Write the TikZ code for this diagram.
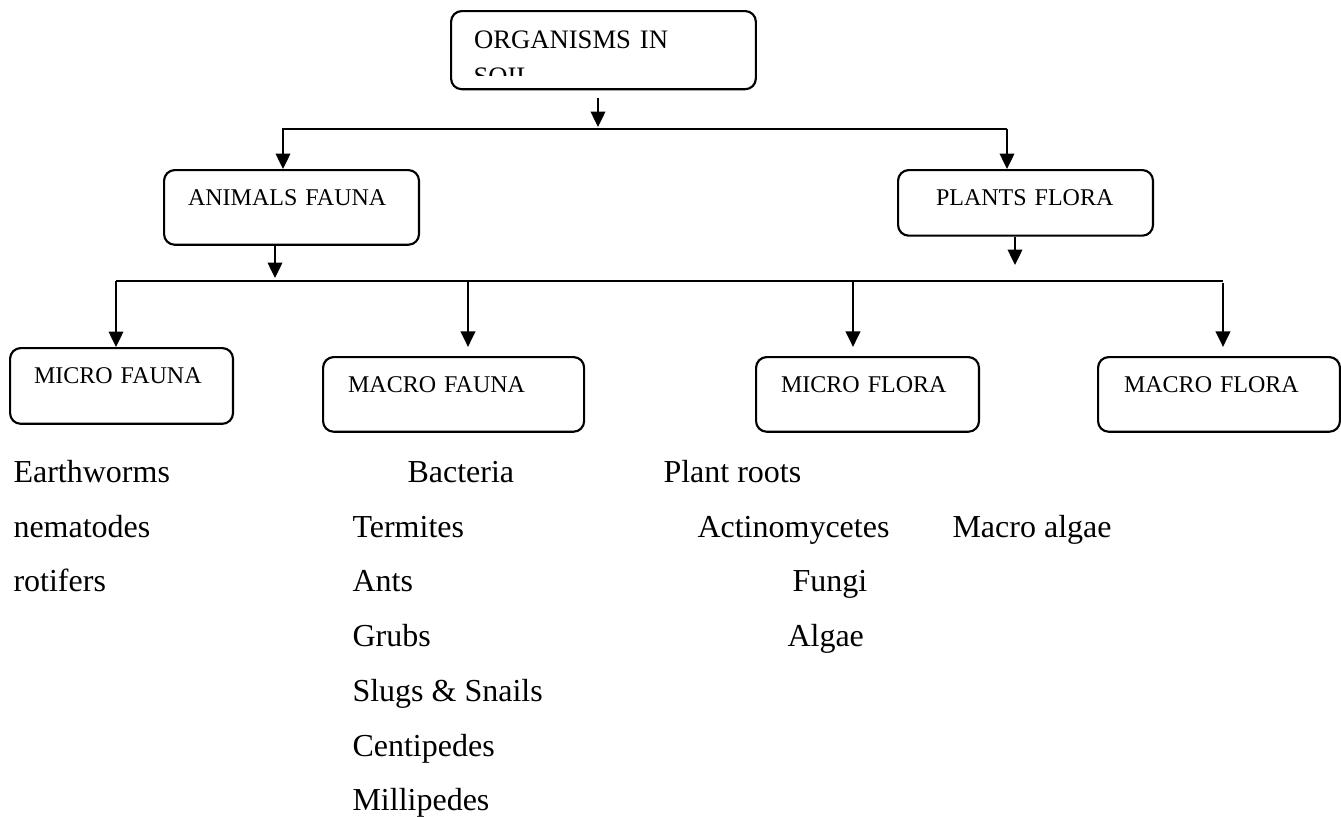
\documentclass[tikz,border=0pt]{standalone}
\usepackage{fontspec}
\setmainfont{Liberation Serif}
\usetikzlibrary{arrows.meta}
\tikzset{
    box/.style={draw, line width=0.8pt, rounded corners=4pt, anchor=north west,
                align=left, inner xsep=9.2pt, inner ysep=0pt, text height=13.4pt,
                font=\fontsize{9}{11}\selectfont},
    entry/.style={anchor=base west, inner sep=0pt, font=\fontsize{12}{14}\selectfont},
    link/.style={line width=1pt},
    arr/.style={line width=1pt, -{Triangle[length=5.8pt,width=5.4pt]}},
}
\begin{document}
\begin{tikzpicture}[x=0.375pt, y=-0.375pt]
    \useasboundingbox (0,0) rectangle (1341,816);

    \node[box, inner xsep=8.6pt, text width=97.1pt, text height=13.9pt, text depth=15.4pt,
          font=\fontsize{10}{14}\selectfont] (soil) at (450,10) {ORGANISMS IN};
    \begin{scope}
        \clip (450,10) rectangle (755,75);
        \node[entry, font=\fontsize{10}{14}\selectfont] (soilcut) at (473,85) {SOIL};
    \end{scope}

    \node[box, inner xsep=9pt,    text width=77.6pt, text depth=14.6pt]  (animals)    at (163,169)  {ANIMALS FAUNA};
    \node[box, inner xsep=14.25pt, text width=67.1pt, text depth=11.2pt] (plants)     at (897,169)  {PLANTS FLORA};
    \node[box, inner xsep=9pt,    text width=65.6pt, text depth=15pt]    (microfauna) at (9,347)    {MICRO FAUNA};
    \node[box, inner xsep=9.4pt,  text width=79.1pt, text depth=14.6pt]  (macrofauna) at (322,356)  {MACRO FAUNA};
    \node[box, inner xsep=9.4pt,  text width=64.8pt, text depth=14.6pt]  (microflora) at (755,356)  {MICRO FLORA};
    \node[box, inner xsep=9.75pt, text width=71.2pt, text depth=14.6pt]  (macroflora) at (1097,356) {MACRO FLORA};

    % branch points
    \coordinate (soilhub)  at (598,127);
    \coordinate (faunaL)   at (283,129);
    \coordinate (floraR)   at (1007,129);
    \coordinate (faunahub) at (275,282);
    \coordinate (florahub) at (1015,265);
    \coordinate (b1) at (116,281);
    \coordinate (b2) at (468,281);
    \coordinate (b3) at (853,281);
    \coordinate (b4) at (1223,281);

    \draw[arr, shorten <=3pt] (soil.south -| soilhub) -- (soilhub);
    \draw[arr] (floraR) -- (faunaL) -- (animals.north -| faunaL);
    \draw[arr] (floraR) -- (plants.north -| floraR);
    \draw[arr, shorten >=1.5pt] (animals.south -| faunahub) -- (faunahub);
    \draw[arr] (plants.south -| florahub) -- (florahub);

    \draw[link] (b1) -- (b4);
    \draw[arr] (b1) -- (microfauna.north -| b1);
    \draw[arr, shorten >=3.4pt] (b2) -- (macrofauna.north -| b2);
    \draw[arr, shorten >=3.4pt] (b3) -- (microflora.north -| b3);
    \draw[arr, shorten >=3.4pt] ([yshift=-0.8pt]b4) -- (macroflora.north -| b4);

    \node[entry] (earthworms) at (13,482)  {Earthworms};
    \node[entry] (nematodes)  at (13,537)  {nematodes};
    \node[entry] (rotifers)   at (13,591)  {rotifers};

    \node[entry] (bacteria)   at (407,482) {Bacteria};
    \node[entry] (termites)   at (352,537) {Termites};
    \node[entry] (ants)       at (352,591) {Ants};
    \node[entry] (grubs)      at (352,646) {Grubs};
    \node[entry] (slugs)      at (352,701) {Slugs \& Snails};
    \node[entry] (centipedes) at (352,756) {Centipedes};
    \node[entry] (millipedes) at (352,810) {Millipedes};

    \node[entry] (roots)      at (663,482) {Plant roots};
    \node[entry] (actino)     at (697,537) {Actinomycetes};
    \node[entry] (fungi)      at (792,591) {Fungi};
    \node[entry] (algae)      at (787,646) {Algae};

    \node[entry] (macroalgae) at (952,537) {Macro algae};
\end{tikzpicture}
\end{document}
